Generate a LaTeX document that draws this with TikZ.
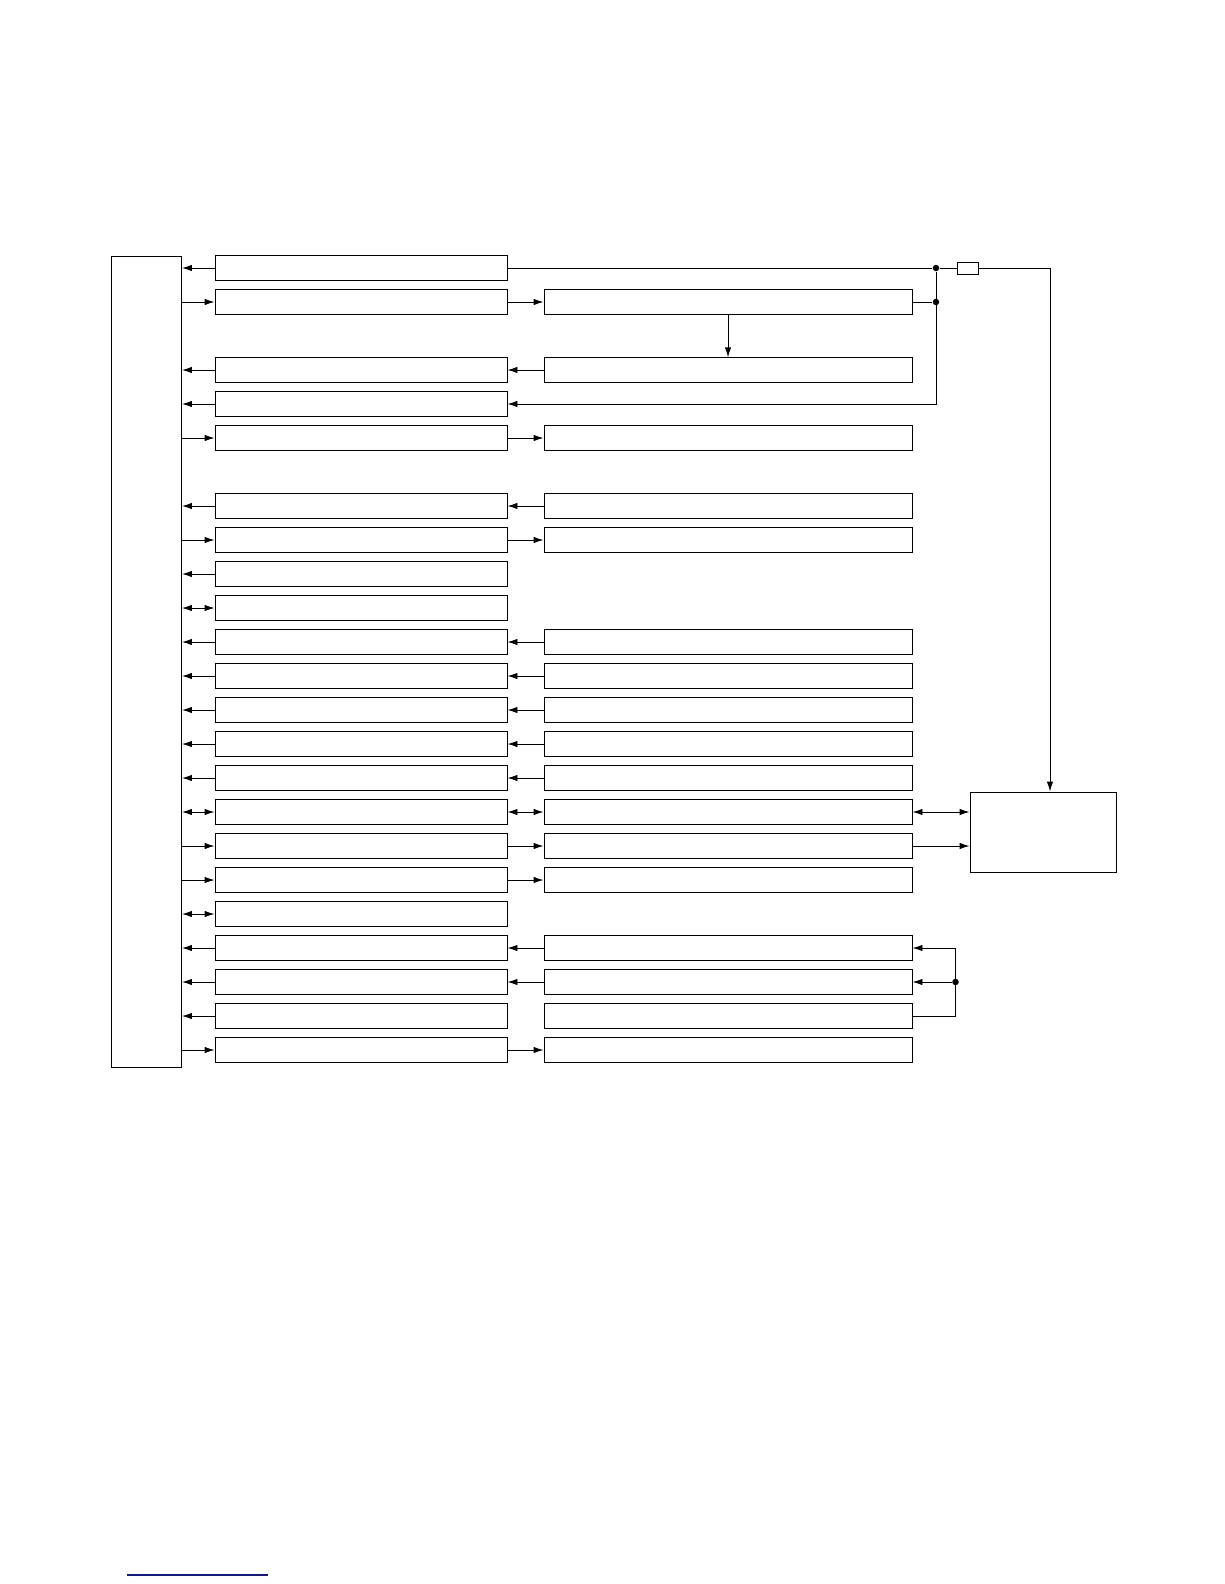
\documentclass[tikz,border=0pt]{standalone}
\usepackage{tikz}
\usetikzlibrary{arrows.meta}

\definecolor{linkblue}{RGB}{20,20,150}

\begin{document}
\begin{tikzpicture}[x=1pt,y=-1pt,line width=0.95pt,
    unit/.style={shape=rectangle,draw=black,inner sep=0pt,minimum width=292pt,minimum height=24.5pt},
    dev/.style={shape=rectangle,draw=black,inner sep=0pt,minimum width=368pt,minimum height=24.5pt},
    sig/.style={-{Latex[length=10pt,width=6.5pt]}},
    both/.style={{Latex[length=10pt,width=6.5pt]}-{Latex[length=10pt,width=6.5pt]}},
    jn/.style={shape=circle,fill=black,inner sep=0pt,minimum size=6.5pt}]
    \useasboundingbox (0,0) rectangle (1224,1584);

        \node[shape=rectangle,draw=black,inner sep=0pt,minimum width=70pt,minimum height=811pt] (mcu) at (146.5,661.5) {};
        \node[shape=rectangle,draw=black,inner sep=0pt,minimum width=146pt,minimum height=80pt] (ext) at (1043,832) {};
        \node[shape=rectangle,draw=black,inner sep=0pt,minimum width=21pt,minimum height=12pt] (fuse) at (967.5,268) {};

        \node[unit] (u0) at (361,268) {};
        \node[unit] (u1) at (361,302) {};
        \node[unit] (u3) at (361,370) {};
        \node[unit] (u4) at (361,404) {};
        \node[unit] (u5) at (361,438) {};
        \node[unit] (u7) at (361,506) {};
        \node[unit] (u8) at (361,540) {};
        \node[unit] (u9) at (361,574) {};
        \node[unit] (u10) at (361,608) {};
        \node[unit] (u11) at (361,642) {};
        \node[unit] (u12) at (361,676) {};
        \node[unit] (u13) at (361,710) {};
        \node[unit] (u14) at (361,744) {};
        \node[unit] (u15) at (361,778) {};
        \node[unit] (u16) at (361,812) {};
        \node[unit] (u17) at (361,846) {};
        \node[unit] (u18) at (361,880) {};
        \node[unit] (u19) at (361,914) {};
        \node[unit] (u20) at (361,948) {};
        \node[unit] (u21) at (361,982) {};
        \node[unit] (u22) at (361,1016) {};
        \node[unit] (u23) at (361,1050) {};

        \node[dev] (d1) at (728,302) {};
        \node[dev] (d3) at (728,370) {};
        \node[dev] (d5) at (728,438) {};
        \node[dev] (d7) at (728,506) {};
        \node[dev] (d8) at (728,540) {};
        \node[dev] (d11) at (728,642) {};
        \node[dev] (d12) at (728,676) {};
        \node[dev] (d13) at (728,710) {};
        \node[dev] (d14) at (728,744) {};
        \node[dev] (d15) at (728,778) {};
        \node[dev] (d16) at (728,812) {};
        \node[dev] (d17) at (728,846) {};
        \node[dev] (d18) at (728,880) {};
        \node[dev] (d20) at (728,948) {};
        \node[dev] (d21) at (728,982) {};
        \node[dev] (d22) at (728,1016) {};
        \node[dev] (d23) at (728,1050) {};

        \node[jn] (j0) at (936,268) {};
        \node[jn] (j1) at (936,302) {};
        \node[jn] (j21) at (955.5,982) {};
        \coordinate (tap) at (1050,268);
        \coordinate (ln0) at (127,1575);
        \coordinate (ln1) at (268,1575);

	% units to and from the controller
	\draw[sig] (u0.west) -- (u0.west -| mcu.east);
	\draw[sig] (u1.west -| mcu.east) -- (u1.west);
	\draw[sig] (u3.west) -- (u3.west -| mcu.east);
	\draw[sig] (u4.west) -- (u4.west -| mcu.east);
	\draw[sig] (u5.west -| mcu.east) -- (u5.west);
	\draw[sig] (u7.west) -- (u7.west -| mcu.east);
	\draw[sig] (u8.west -| mcu.east) -- (u8.west);
	\draw[sig] (u9.west) -- (u9.west -| mcu.east);
	\draw[both] (u10.west -| mcu.east) -- (u10.west);
	\draw[sig] (u11.west) -- (u11.west -| mcu.east);
	\draw[sig] (u12.west) -- (u12.west -| mcu.east);
	\draw[sig] (u13.west) -- (u13.west -| mcu.east);
	\draw[sig] (u14.west) -- (u14.west -| mcu.east);
	\draw[sig] (u15.west) -- (u15.west -| mcu.east);
	\draw[both] (u16.west -| mcu.east) -- (u16.west);
	\draw[sig] (u17.west -| mcu.east) -- (u17.west);
	\draw[sig] (u18.west -| mcu.east) -- (u18.west);
	\draw[both] (u19.west -| mcu.east) -- (u19.west);
	\draw[sig] (u20.west) -- (u20.west -| mcu.east);
	\draw[sig] (u21.west) -- (u21.west -| mcu.east);
	\draw[sig] (u22.west) -- (u22.west -| mcu.east);
	\draw[sig] (u23.west -| mcu.east) -- (u23.west);

	% devices to and from the units
	\draw[sig] (u1.east) -- (d1.west);
	\draw[sig] (d3.west) -- (u3.east);
	\draw[sig] (u5.east) -- (d5.west);
	\draw[sig] (d7.west) -- (u7.east);
	\draw[sig] (u8.east) -- (d8.west);
	\draw[sig] (d11.west) -- (u11.east);
	\draw[sig] (d12.west) -- (u12.east);
	\draw[sig] (d13.west) -- (u13.east);
	\draw[sig] (d14.west) -- (u14.east);
	\draw[sig] (d15.west) -- (u15.east);
	\draw[both] (u16.east) -- (d16.west);
	\draw[sig] (u17.east) -- (d17.west);
	\draw[sig] (u18.east) -- (d18.west);
	\draw[sig] (d21.west) -- (u21.east);
	\draw[sig] (d20.west) -- (u20.east);
	\draw[sig] (u23.east) -- (d23.west);
	\draw[sig] (d1.south) -- (d3.north);

	% supply line
	\draw (u0.east) -- (j0) -- (fuse.west);
	\draw[sig] (fuse.east) -- (tap) -- (tap |- ext.north);
	\draw (d1.east) -- (j1);
	\draw[sig] (j0) |- (u4.east);

	% external unit
	\draw[both] (d16.east) -- (d16.east -| ext.west);
	\draw[sig] (d17.east) -- (d17.east -| ext.west);

	% feedback bus
	\draw[sig] (d22.east) -| (j21.center) |- (d20.east);
	\draw[sig] (j21) -- (d21.east);

	\draw[draw=linkblue,line width=1.4pt] (ln0) -- (ln1);
\end{tikzpicture}
\end{document}
